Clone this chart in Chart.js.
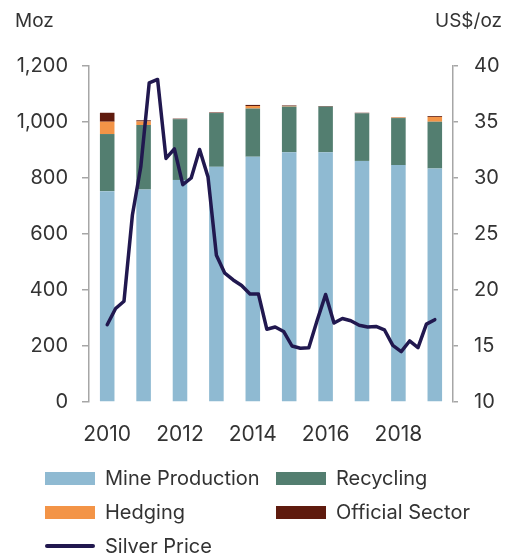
<!DOCTYPE html>
<html>
<head>
<meta charset="utf-8">
<script src="https://cdn.jsdelivr.net/npm/chart.js@4"></script>
<style>
  body { margin: 0; background: #fff; }
  #wrap { position: relative; width: 506px; height: 554px; font-family: Inter, "Noto Sans", sans-serif; color: #333; }
  canvas { position: absolute; left: 0; top: 0; }
  .lbl { position: absolute; font-size: 19px; line-height: 20px; white-space: nowrap; }
  .item { position: absolute; font-size: 20px; line-height: 20px; white-space: nowrap; }
  .item i { position: absolute; left: 0; width: 50px; height: 13px; top: 4px; }
  .item span { position: absolute; left: 60px; top: 0; }
</style>
</head>
<body>
<div id="wrap">
  <canvas id="myChart" width="506" height="554"></canvas>
  <div class="lbl" style="left:15px;top:11px">Moz</div>
  <div class="lbl" style="right:4px;top:11px">US$/oz</div>
  <div id="legend"></div>
</div>
<script>
// Data
let years = ['2010','2011','2012','2013','2014','2015','2016','2017','2018','2019'];
let mineProduction = [753, 759, 793, 840, 876, 892, 892, 861, 846, 834];
let recycling = [204, 230, 217, 192, 172, 163, 163, 170, 168, 167];
let hedging = [44, 13, 0, 0, 9, 2, 0, 0, 2, 17];
let officialSector = [32, 4, 2, 2, 4, 2, 2, 2, 1, 3];
// silver price, evenly spread from 2010 to 2019
let silverPrice = [16.9, 18.35, 19.0, 26.7, 31.0, 38.5, 38.8, 31.75, 32.6, 29.4,
                   30.0, 32.55, 30.1, 23.1, 21.5, 20.9, 20.4, 19.65, 19.65, 16.5,
                   16.7, 16.3, 15.0, 14.8, 14.85, 17.3, 19.6, 17.05, 17.45, 17.25,
                   16.85, 16.7, 16.75, 16.45, 15.05, 14.5, 15.45, 14.85, 16.95, 17.35];
let leftTicks = [0, 200, 400, 600, 800, 1000, 1200];
let rightTicks = [10, 15, 20, 25, 30, 35, 40];

let pricePoints = silverPrice.map((p, i) => ({ x: i * (years.length - 1) / (silverPrice.length - 1), y: p }));

let font = { family: 'Inter, "Noto Sans", sans-serif', size: 20 };
let axisColor = '#a6a6a6';

function bar(label, data, color){
    return { type: 'bar', label: label, data: data, backgroundColor: color,
             barPercentage: 0.4, categoryPercentage: 1, grouped: false, order: 1 };
}

let ctx = document.getElementById('myChart').getContext('2d');
let chart = new Chart(ctx, {
    data: {
        labels: years,
        datasets: [
            {
                type: 'line', label: 'Silver Price', data: pricePoints,
                xAxisID: 'xl', yAxisID: 'y1',
                borderColor: '#21184f', borderWidth: 3.5, pointRadius: 0,
                tension: 0, borderJoinStyle: 'round', borderCapStyle: 'round', order: 0
            },
            bar('Mine Production', mineProduction, '#8fbad2'),
            bar('Recycling', recycling, '#537e70'),
            bar('Hedging', hedging, '#f39447'),
            bar('Official Sector', officialSector, '#5f1b0e')
        ]
    },
    options: {
        responsive: false,
        animation: false,
        devicePixelRatio: 1,
        layout: { padding: { top: 66, bottom: 102, left: 0, right: 0 } },
        plugins: { legend: { display: false }, tooltip: { enabled: false } },
        scales: {
            x: {
                stacked: true,
                grid: { display: false },
                border: { display: false },
                ticks: {
                    color: '#333', font: { family: font.family, size: 21 }, padding: 12,
                    maxRotation: 0, autoSkip: false,
                    callback: (v, i) => i % 2 === 0 ? years[i] : ''
                },
                afterFit: s => { s.height = 50; }
            },
            xl: { type: 'linear', display: false, min: -0.5, max: 9.5 },
            y: {
                stacked: true, position: 'left', min: 0, max: 1200,
                afterBuildTicks: s => { s.ticks = leftTicks.map(v => ({ value: v })); },
                grid: { drawOnChartArea: false, tickLength: 7, color: axisColor, lineWidth: 1.5 },
                border: { color: axisColor, width: 1.5 },
                ticks: { color: '#333', font: font, padding: 14,
                         callback: v => v.toLocaleString('en-US') },
                afterFit: s => { s.width = 89; }
            },
            y1: {
                position: 'right', min: 10, max: 40,
                afterBuildTicks: s => { s.ticks = rightTicks.map(v => ({ value: v })); },
                grid: { drawOnChartArea: false, tickLength: 5, color: axisColor, lineWidth: 1.5 },
                border: { color: axisColor, width: 1.5 },
                ticks: { color: '#333', font: font, padding: 16 },
                afterFit: s => { s.width = 53; }
            }
        }
    }
});

// Legend in two columns, built from the datasets
let legendDiv = document.getElementById('legend');
let legendOrder = [1, 2, 3, 4, 0];
legendOrder.forEach((dsIndex, k) => {
    let ds = chart.data.datasets[dsIndex];
    let item = document.createElement('div');
    item.className = 'item';
    item.style.left = (k % 2 === 0 ? 45 : 276) + 'px';
    item.style.top = (468 + Math.floor(k / 2) * 34) + 'px';
    let sw = document.createElement('i');
    if(ds.type === 'line'){
        sw.style.height = '3.5px';
        sw.style.top = '8px';
        sw.style.borderRadius = '2px';
        sw.style.background = ds.borderColor;
    }
    else
        sw.style.background = ds.backgroundColor;
    let txt = document.createElement('span');
    txt.textContent = ds.label;
    item.appendChild(sw);
    item.appendChild(txt);
    legendDiv.appendChild(item);
});
</script>
</body>
</html>
